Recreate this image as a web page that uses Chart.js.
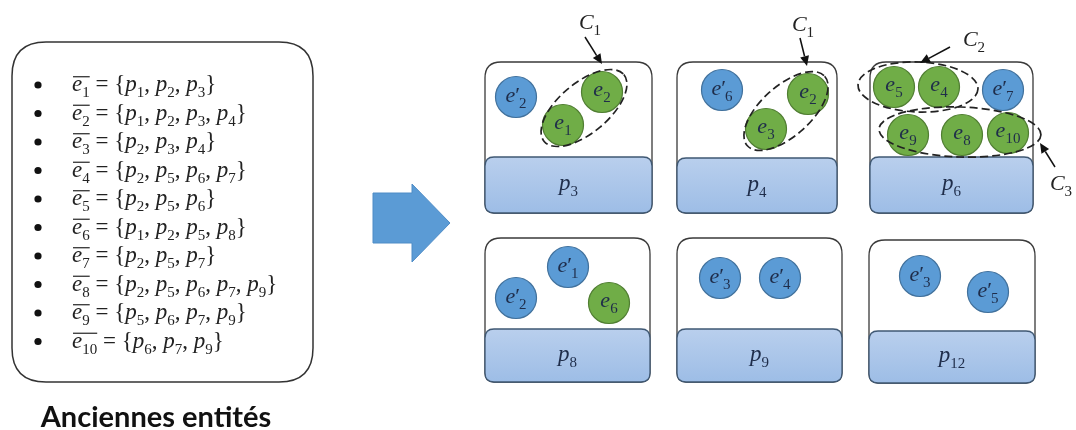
<!DOCTYPE html>
<html>
<head>
<meta charset="utf-8">
<script src="https://cdn.jsdelivr.net/npm/chart.js@4.4.1/dist/chart.umd.min.js"></script>
<style>
  html, body { margin: 0; padding: 0; background: #fff; }
  #wrap { width: 1076px; height: 430px; position: relative; }
</style>
</head>
<body>
<div id="wrap"><canvas id="diagram"></canvas></div>
<script>
// old entities and the pages they belong to
const oldEntities = ['1', '2', '3', '4', '5', '6', '7', '8', '9', '10'];
const entityPages = [
    ['1', '2', '3'],
    ['1', '2', '3', '4'],
    ['2', '3', '4'],
    ['2', '5', '6', '7'],
    ['2', '5', '6'],
    ['1', '2', '5', '8'],
    ['2', '5', '7'],
    ['2', '5', '6', '7', '9'],
    ['5', '6', '7', '9'],
    ['6', '7', '9']
];
const listTitle = 'Anciennes entités';

// pages drawn on the right
const pageLabels = ['3', '4', '6', '8', '9', '12'];
// x0, x1, top, band top, bottom
const pageBoxes = [
    [485, 652, 62, 157, 213],
    [677, 837, 62, 158, 213],
    [870, 1033, 62, 157, 213],
    [485, 650, 238, 329, 382],
    [677, 842, 238, 329, 382],
    [869, 1035, 240, 331, 383]
];

// new entities (blue, primed) and old entities (green)
const newEntX = [516, 722, 1003, 568, 516, 720, 780, 920, 988];
const newEntY = [97, 90, 90, 267, 298, 278, 278, 276, 292];
const newEntSub = ['2', '6', '7', '1', '2', '3', '4', '3', '5'];
const oldEntX = [563, 602, 766, 808, 894, 939, 908, 962, 1008, 609];
const oldEntY = [125, 92, 129, 94, 87, 87, 135, 135, 133, 303];
const oldEntSub = ['1', '2', '3', '2', '5', '4', '9', '8', '10', '6'];

// clusters: centre x, centre y, semi axes, rotation (deg)
const clusterLabels = ['1', '1', '2', '3'];
const clusters = [
    [584, 108, 52, 25, -40],
    [786, 111, 52, 25, -42],
    [918, 87, 60, 25, 2],
    [960, 132, 81, 25, 2]
];
// label position, arrow start, arrow end
const clusterTags = [
    [590, 23, 585, 37, 602, 64],
    [803, 25, 800, 38, 807, 66],
    [974, 40, 950, 47, 920, 63],
    [1061, 184, 1055, 167, 1040, 143]
];

const SERIF = '"Liberation Serif", "DejaVu Serif", serif';
const BLUE = '#5b9bd5', BLUE_EDGE = '#41719c';
const GREEN = '#70ad47', GREEN_EDGE = '#507e32';

function fontFor(st, size) {
    if (st === 'i') return 'italic ' + size + 'px ' + SERIF;
    if (st === 'sub') return Math.round(size * 0.66) + 'px ' + SERIF;
    return size + 'px ' + SERIF;
}

// draw a run of math-ish text; returns width
function drawMath(ctx, parts, x, y, size, align, color) {
    let w = 0;
    const widths = parts.map(p => {
        ctx.font = fontFor(p.st, size);
        const m = ctx.measureText(p.t).width + (p.kern || 0);
        w += m;
        return m;
    });
    let cx = align === 'center' ? x - w / 2 : x;
    ctx.save();
    ctx.fillStyle = color || '#222';
    ctx.textBaseline = 'alphabetic';
    ctx.textAlign = 'left';
    let barFrom = null, barTo = null;
    parts.forEach((p, i) => {
        ctx.font = fontFor(p.st, size);
        const dy = p.st === 'sub' ? size * 0.28 : 0;
        ctx.fillText(p.t, cx + (p.kern || 0), y + dy);
        if (p.bar) {
            if (barFrom === null) barFrom = cx;
            barTo = cx + widths[i];
        }
        cx += widths[i];
    });
    if (barFrom !== null) {
        ctx.strokeStyle = color || '#222';
        ctx.lineWidth = 1.2;
        ctx.beginPath();
        ctx.moveTo(barFrom + 1, y - size * 0.62);
        ctx.lineTo(barTo, y - size * 0.62);
        ctx.stroke();
    }
    ctx.restore();
    return w;
}

function roundRect(ctx, x0, y0, x1, y1, rTop, rBot) {
    ctx.beginPath();
    ctx.moveTo(x0 + rTop, y0);
    ctx.lineTo(x1 - rTop, y0);
    ctx.quadraticCurveTo(x1, y0, x1, y0 + rTop);
    ctx.lineTo(x1, y1 - rBot);
    ctx.quadraticCurveTo(x1, y1, x1 - rBot, y1);
    ctx.lineTo(x0 + rBot, y1);
    ctx.quadraticCurveTo(x0, y1, x0, y1 - rBot);
    ctx.lineTo(x0, y0 + rTop);
    ctx.quadraticCurveTo(x0, y0, x0 + rTop, y0);
    ctx.closePath();
}

function arrowLine(ctx, x0, y0, x1, y1) {
    const a = Math.atan2(y1 - y0, x1 - x0);
    const hl = 10, hw = 4.5;
    const bx = x1 - hl * Math.cos(a), by = y1 - hl * Math.sin(a);
    ctx.beginPath();
    ctx.moveTo(x0, y0);
    ctx.lineTo(bx, by);
    ctx.stroke();
    ctx.beginPath();
    ctx.moveTo(x1, y1);
    ctx.lineTo(bx + hw * Math.sin(a), by - hw * Math.cos(a));
    ctx.lineTo(bx - hw * Math.sin(a), by + hw * Math.cos(a));
    ctx.closePath();
    ctx.fill();
}

const backdrop = {
    id: 'backdrop',
    beforeDatasetsDraw(chart) {
        const ctx = chart.ctx;
        const sx = chart.scales.x, sy = chart.scales.y;
        const X = v => sx.getPixelForValue(v), Y = v => sy.getPixelForValue(v);
        ctx.save();

        // left list box
        ctx.strokeStyle = '#333';
        ctx.lineWidth = 1.5;
        roundRect(ctx, X(12), Y(42), X(313), Y(382), 34, 34);
        ctx.stroke();

        ctx.fillStyle = '#111';
        oldEntities.forEach((e, i) => {
            const y = Y(91 + i * 28.5);
            ctx.beginPath();
            ctx.arc(X(38), y - 6, 3.6, 0, Math.PI * 2);
            ctx.fill();
            const parts = [
                { t: 'e', st: 'i', bar: true },
                { t: e, st: 'sub', bar: true },
                { t: ' = {', st: 'r' }
            ];
            entityPages[i].forEach((p, k) => {
                parts.push({ t: 'p', st: 'i' });
                parts.push({ t: p, st: 'sub' });
                if (k < entityPages[i].length - 1) parts.push({ t: ', ', st: 'r' });
            });
            parts.push({ t: '}', st: 'r' });
            drawMath(ctx, parts, X(72), y, 23, 'left', '#222');
        });

        // title under the list
        ctx.fillStyle = '#111';
        ctx.textAlign = 'center';
        ctx.textBaseline = 'alphabetic';
        ctx.font = 'bold 29px Lato, "Open Sans", sans-serif';
        ctx.fillText(listTitle, X(156), Y(427));

        // big block arrow
        ctx.fillStyle = BLUE;
        ctx.strokeStyle = '#4f8cc6';
        ctx.lineWidth = 1;
        ctx.beginPath();
        ctx.moveTo(X(373), Y(193));
        ctx.lineTo(X(412), Y(193));
        ctx.lineTo(X(412), Y(184));
        ctx.lineTo(X(450), Y(223));
        ctx.lineTo(X(412), Y(262));
        ctx.lineTo(X(412), Y(243));
        ctx.lineTo(X(373), Y(243));
        ctx.closePath();
        ctx.fill();
        ctx.stroke();

        // pages
        pageBoxes.forEach((b, i) => {
            const [x0, x1, t, bt, bot] = b;
            ctx.fillStyle = '#fff';
            ctx.strokeStyle = '#3a3a3a';
            ctx.lineWidth = 1.3;
            roundRect(ctx, X(x0), Y(t), X(x1), Y(bot), 16, 9);
            ctx.fill();
            ctx.stroke();
            const g = ctx.createLinearGradient(0, Y(bt), 0, Y(bot));
            g.addColorStop(0, '#b9cfed');
            g.addColorStop(1, '#9dbde6');
            ctx.fillStyle = g;
            ctx.strokeStyle = '#3f5873';
            roundRect(ctx, X(x0), Y(bt), X(x1), Y(bot), 9, 9);
            ctx.fill();
            ctx.stroke();
            drawMath(ctx, [{ t: 'p', st: 'i' }, { t: pageLabels[i], st: 'sub' }],
                X((x0 + x1) / 2), Y((bt + bot) / 2 + 5), 23, 'center', '#1f2d4a');
        });
        ctx.restore();
    },
    afterDatasetsDraw(chart) {
        const ctx = chart.ctx;
        const sx = chart.scales.x, sy = chart.scales.y;
        const X = v => sx.getPixelForValue(v), Y = v => sy.getPixelForValue(v);
        ctx.save();

        // labels inside the circles
        newEntX.forEach((x, i) => {
            drawMath(ctx, [
                { t: 'e', st: 'i' },
                { t: '\u2032', st: 'r' },
                { t: newEntSub[i], st: 'sub', kern: -1 }
            ], X(x), Y(newEntY[i] + 5), 22, 'center', '#1f2d4a');
        });
        oldEntX.forEach((x, i) => {
            drawMath(ctx, [
                { t: 'e', st: 'i' },
                { t: oldEntSub[i], st: 'sub' }
            ], X(x), Y(oldEntY[i] + 4), 22, 'center', '#1f2d4a');
        });

        // dashed cluster outlines
        ctx.strokeStyle = '#222';
        ctx.lineWidth = 1.7;
        ctx.setLineDash([8, 4]);
        clusters.forEach(c => {
            ctx.beginPath();
            ctx.ellipse(X(c[0]), Y(c[1]), c[2], c[3], c[4] * Math.PI / 180, 0, Math.PI * 2);
            ctx.stroke();
        });
        ctx.setLineDash([]);

        // cluster tags with arrows
        ctx.fillStyle = '#111';
        ctx.strokeStyle = '#111';
        ctx.lineWidth = 1.5;
        clusterTags.forEach((t, i) => {
            drawMath(ctx, [{ t: 'C', st: 'i' }, { t: clusterLabels[i], st: 'sub' }],
                X(t[0]), Y(t[1] + 6), 22, 'center', '#222');
            arrowLine(ctx, X(t[2]), Y(t[3]), X(t[4]), Y(t[5]));
        });
        ctx.restore();
    }
};

new Chart(document.getElementById('diagram'), {
    type: 'bubble',
    data: {
        datasets: [{
            label: 'nouvelles',
            data: newEntX.map((x, i) => ({ x: x, y: newEntY[i], r: 20.5 })),
            backgroundColor: BLUE,
            borderColor: BLUE_EDGE,
            borderWidth: 1.2
        }, {
            label: 'anciennes',
            data: oldEntX.map((x, i) => ({ x: x, y: oldEntY[i], r: 20.5 })),
            backgroundColor: GREEN,
            borderColor: GREEN_EDGE,
            borderWidth: 1.2
        }]
    },
    options: {
        responsive: true,
        maintainAspectRatio: false,
        animation: false,
        events: [],
        layout: { padding: 0, autoPadding: false },
        scales: {
            x: { type: 'linear', min: 0, max: 1076, display: false },
            y: { type: 'linear', min: 0, max: 430, reverse: true, display: false }
        },
        plugins: {
            legend: { display: false },
            tooltip: { enabled: false }
        }
    },
    plugins: [backdrop]
});
</script>
</body>
</html>
